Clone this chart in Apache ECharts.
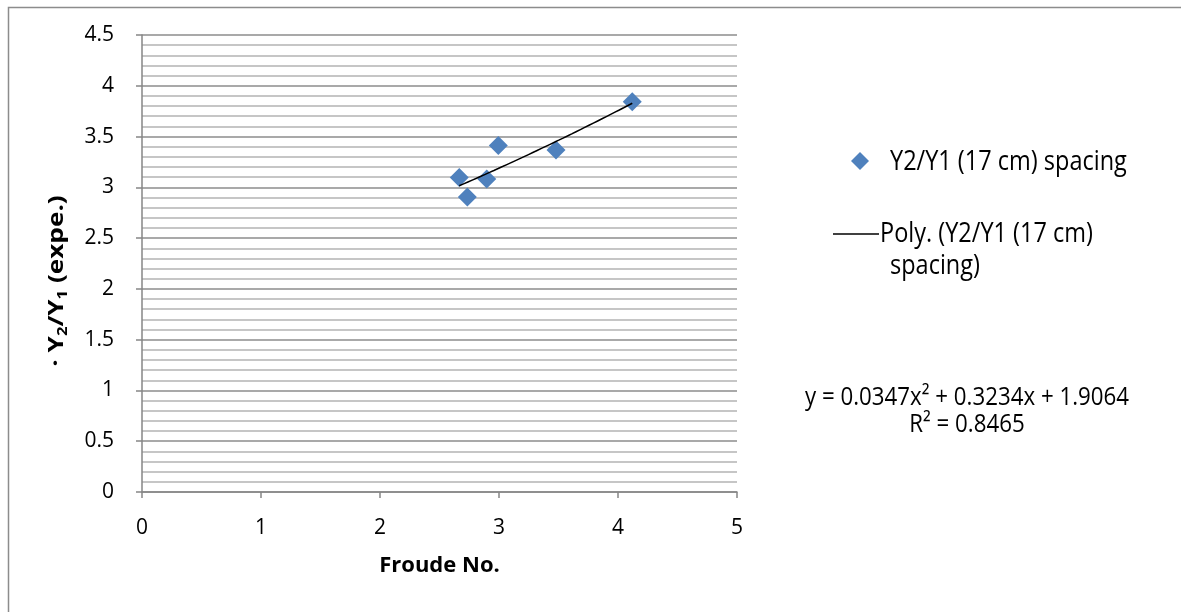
<!DOCTYPE html>
<html>
<head>
<meta charset="utf-8">
<script src="https://cdn.jsdelivr.net/npm/echarts@6/dist/echarts.min.js"></script>
<style>
  html, body { margin: 0; padding: 0; background: #fff; }
  #chart { width: 1181px; height: 612px; }
</style>
</head>
<body>
<div id="chart"></div>
<script>
// Measured hydraulic jump data: Froude number vs. depth ratio
var froude = [2.666, 2.734, 2.897, 2.994, 3.479, 4.120];
var depthRatio = [3.097, 2.906, 3.081, 3.413, 3.367, 3.842];

// Second-order polynomial trend coefficients [a2, a1, a0] and fit quality
var polyCoef = [0.0347, 0.3234, 1.9064];
var rSquared = 0.8465;

var xTicks = [0, 1, 2, 3, 4, 5];
var yTicks = [0, 0.5, 1, 1.5, 2, 2.5, 3, 3.5, 4, 4.5];

var seriesName = 'Y2/Y1 (17 cm) spacing';

// Trend curve sampled from the fitted equation over the data range
var xMin = Math.min.apply(null, froude);
var xMax = Math.max.apply(null, froude);
var trend = [];
for (var i = 0; i <= 40; i++) {
  var x = xMin + (xMax - xMin) * i / 40;
  trend.push([x, polyCoef[0] * x * x + polyCoef[1] * x + polyCoef[2]]);
}

var points = froude.map(function (f, k) { return [f, depthRatio[k]]; });

var FONT = 'Open Sans';
var FS = 21;
var STRETCH = 1.15;
var chart = echarts.init(document.getElementById('chart'));

chart.setOption({
  backgroundColor: '#fff',
  animation: false,
  textStyle: { fontFamily: FONT },
  grid: { left: 142, right: 444, top: 35, bottom: 120 },
  xAxis: {
    type: 'value',
    min: xTicks[0], max: xTicks[xTicks.length - 1], interval: 1,
    name: 'Froude No.',
    nameLocation: 'middle',
    nameGap: 63,
    nameTextStyle: { fontFamily: FONT, fontSize: 22, fontWeight: 'bold', color: '#000' },
    axisLine: { onZero: false, lineStyle: { color: '#868686', width: 1.5 } },
    axisTick: { show: true, length: 6, lineStyle: { color: '#868686', width: 1.5 } },
    axisLabel: { fontFamily: FONT, fontSize: FS, color: '#000', margin: 26 },
    splitLine: { show: false }
  },
  yAxis: {
    type: 'value',
    min: yTicks[0], max: yTicks[yTicks.length - 1], interval: 0.5,
    axisLine: { show: true, lineStyle: { color: '#868686', width: 1.5 } },
    axisTick: { show: true, length: 6, lineStyle: { color: '#868686', width: 1.5 } },
    axisLabel: {
      fontFamily: FONT, fontSize: FS, color: '#000', margin: 28,
      formatter: function (v) { return String(v); }
    },
    splitLine: { show: true, lineStyle: { color: '#8c8c8c', width: 1.5 } },
    minorTick: { show: false, splitNumber: 5 },
    minorSplitLine: { show: true, lineStyle: { color: '#b4b4b4', width: 1.5 } }
  },
  series: [
    {
      name: seriesName,
      type: 'scatter',
      data: points,
      symbol: 'diamond',
      symbolSize: [19, 19],
      itemStyle: { color: '#4f81bd', opacity: 1 },
      z: 3
    },
    {
      name: 'Poly. (' + seriesName + ')',
      type: 'line',
      data: trend,
      showSymbol: false,
      smooth: false,
      lineStyle: { color: '#000', width: 1.5 },
      z: 4
    }
  ],
  graphic: [
    // outer chart frame
    { type: 'rect', shape: { x: 8.5, y: 7.5, width: 1300, height: 800 }, style: { fill: null, stroke: '#8c8c8c', lineWidth: 1.5 }, silent: true },
    // y-axis title, rotated, with subscripts
    { type: 'text', x: 57, y: 281, rotation: Math.PI / 2, scaleX: 1.19,
      style: {
        text: '· Y{s|2}/Y{s|1} (expe.)',
        fontFamily: FONT, fontSize: 22, fontWeight: 'bold', fill: '#000',
        textAlign: 'center', textVerticalAlign: 'middle',
        rich: {
          s: { fontFamily: FONT, fontSize: 14, fontWeight: 'bold', fill: '#000', padding: [12, 0, 0, 0] }
        }
      } },
    // legend: scatter series
    { type: 'polygon', shape: { points: [[860, 152], [869, 161], [860, 170], [851, 161]] }, style: { fill: '#4f81bd' } },
    { type: 'text', x: 890, y: 162, scaleY: STRETCH, style: { text: seriesName, fontFamily: FONT, fontSize: 23.5, fill: '#000', textVerticalAlign: 'middle' } },
    // legend: trend line
    { type: 'line', shape: { x1: 833, y1: 234, x2: 879, y2: 234 }, style: { stroke: '#000', lineWidth: 1.5 } },
    { type: 'text', x: 880, y: 234, scaleY: STRETCH, style: { text: 'Poly. (' + 'Y2/Y1 (17 cm)', fontFamily: FONT, fontSize: 23.5, fill: '#000', textVerticalAlign: 'middle' } },
    { type: 'text', x: 890, y: 266, scaleY: STRETCH, style: { text: 'spacing)', fontFamily: FONT, fontSize: 23.5, fill: '#000', textVerticalAlign: 'middle' } },
    // trend equation
    { type: 'text', x: 967, y: 398, scaleY: STRETCH, style: {
        text: 'y = ' + polyCoef[0] + 'x\u00B2 + ' + polyCoef[1] + 'x + ' + polyCoef[2],
        fontFamily: FONT, fontSize: 22.3, fill: '#000', textAlign: 'center', textVerticalAlign: 'middle' } },
    { type: 'text', x: 967, y: 425, scaleY: STRETCH, style: {
        text: 'R\u00B2 = ' + rSquared,
        fontFamily: FONT, fontSize: 22.3, fill: '#000', textAlign: 'center', textVerticalAlign: 'middle' } }
  ]
});
</script>
</body>
</html>
